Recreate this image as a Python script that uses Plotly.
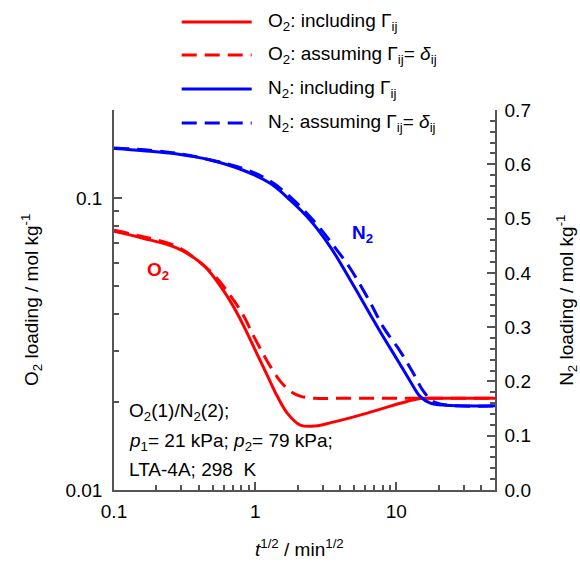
import math
import plotly.graph_objects as go

# Square root of time, min^1/2, and loadings for each curve
t_o2_incl = [0.1, 0.1606, 0.2798, 0.43, 0.593, 0.745, 0.878, 1.016, 1.216, 1.432,
             1.687, 2.085, 2.665, 3.574, 6.226, 10.68, 14.80, 20.51, 50]
q_o2_incl = [0.0769, 0.07279, 0.06727, 0.05884, 0.04831, 0.0403, 0.03444, 0.02966, 0.02474, 0.02097,
             0.01834, 0.01669, 0.01656, 0.01708, 0.01834, 0.01981, 0.02056, 0.0206, 0.0206]

t_o2_delta = [0.1, 0.1606, 0.2798, 0.4797, 0.6648, 0.8221, 0.9678, 1.121, 1.277, 1.504,
              1.771, 2.085, 2.665, 4.0, 50]
q_o2_delta = [0.0775, 0.07367, 0.06808, 0.05612, 0.04645, 0.0397, 0.03391, 0.02966, 0.02655, 0.0236,
              0.02182, 0.02097, 0.0206, 0.0206, 0.0206]

t_n2_incl = [0.1, 0.1606, 0.2798, 0.4797, 0.8221, 1.277, 1.771, 2.455, 3.404, 4.718,
             5.556, 6.541, 7.956, 10.16, 12.57, 14.80, 17.42, 22.26, 50]
q_n2_incl = [0.629, 0.625, 0.619, 0.608, 0.589, 0.565, 0.534, 0.497, 0.448, 0.387,
             0.355, 0.323, 0.285, 0.240, 0.200, 0.172, 0.160, 0.156, 0.155]

t_n2_delta = [0.1, 0.2798, 0.8221, 1.277, 1.771, 2.578, 3.574, 4.718, 6.541, 8.087,
              10.68, 13.20, 15.54, 18.30, 24.15, 50]
q_n2_delta = [0.630, 0.620, 0.592, 0.569, 0.540, 0.497, 0.451, 0.408, 0.345, 0.300,
              0.255, 0.215, 0.182, 0.163, 0.156, 0.155]

legend_labels = [
    "O<sub>2</sub>: including Γ<sub>ij</sub>",
    "O<sub>2</sub>: assuming Γ<sub>ij</sub>= <i>δ</i><sub>ij</sub>",
    "N<sub>2</sub>: including Γ<sub>ij</sub>",
    "N<sub>2</sub>: assuming Γ<sub>ij</sub>= <i>δ</i><sub>ij</sub>",
]

x_ticks = [0.1, 1, 10]
x_minor = [0.2, 0.3, 0.4, 0.5, 0.6, 0.7, 0.8, 0.9, 2, 3, 4, 5, 6, 7, 8, 9, 20, 30, 40]
y_ticks = [0.01, 0.1]
y_minor = [0.02, 0.03, 0.04, 0.05, 0.06, 0.07, 0.08, 0.09, 0.2]
y2_ticks = [0.0, 0.1, 0.2, 0.3, 0.4, 0.5, 0.6, 0.7]

RED = "#ff0000"
BLUE = "#0000ff"
AXIS = "#555555"
FONT = "Arial, Liberation Sans, sans-serif"
FS = 19
DASH = "15px,8px"

fig = go.Figure()
series = [
    (t_o2_incl, q_o2_incl, RED, "solid", "y"),
    (t_o2_delta, q_o2_delta, RED, DASH, "y"),
    (t_n2_incl, q_n2_incl, BLUE, "solid", "y2"),
    (t_n2_delta, q_n2_delta, BLUE, DASH, "y2"),
]
for (t, q, col, dash, ax), name in zip(series, legend_labels):
    fig.add_trace(go.Scatter(
        x=t, y=q, yaxis=ax, mode="lines", name=name, showlegend=False,
        line=dict(color=col, width=3, dash=dash, shape="spline", smoothing=1.0),
    ))

# Legend drawn as line samples plus labels above the plot area
row_y = [1.2316, 1.1447, 1.0553, 0.9658]
styles = [(RED, "solid"), (RED, DASH), (BLUE, "solid"), (BLUE, DASH)]
shapes = []
annotations = []
for yy, (col, dash), lab in zip(row_y, styles, legend_labels):
    shapes.append(dict(type="line", xref="paper", yref="paper", x0=0.1777, x1=0.3614,
                       y0=yy, y1=yy, line=dict(color=col, width=3, dash=dash)))
    annotations.append(dict(xref="paper", yref="paper", x=0.398, y=yy, xanchor="left",
                            yanchor="middle", text=lab, showarrow=False,
                            font=dict(size=FS, color="black", family=FONT)))

# Axis titles
annotations += [
    dict(xref="paper", yref="paper", x=-0.2178, y=0.5, xanchor="center", yanchor="middle",
         textangle=-90, showarrow=False,
         text="O<sub>2</sub> loading / mol kg<sup>-1</sup>", font=dict(size=FS, family=FONT)),
    dict(xref="paper", yref="paper", x=1.186, y=0.5, xanchor="center", yanchor="middle",
         textangle=-90, showarrow=False,
         text="N<sub>2</sub> loading / mol kg<sup>-1</sup>", font=dict(size=FS, family=FONT)),
    dict(xref="paper", yref="paper", x=0.488, y=-0.152, xanchor="center", yanchor="middle",
         showarrow=False,
         text="<i>t</i><sup>1/2</sup> / min<sup>1/2</sup>", font=dict(size=FS, family=FONT)),
]

# Conditions note
note_lines = [
    "O<sub>2</sub>(1)/N<sub>2</sub>(2);",
    "<i>p</i><sub>1</sub>= 21 kPa; <i>p</i><sub>2</sub>= 79 kPa;",
    "LTA-4A; 298  K",
]
for yy, txt in zip([0.2053, 0.1263, 0.053], note_lines):
    annotations.append(dict(xref="paper", yref="paper", x=0.034, y=yy, xanchor="left",
                            yanchor="middle", text=txt, showarrow=False,
                            font=dict(size=FS, color="black", family=FONT)))

# Curve labels
annotations += [
    dict(xref="x", yref="y", x=math.log10(0.205), y=math.log10(0.0562), showarrow=False,
         xanchor="center", yanchor="middle",
         text="<b>O<sub>2</sub></b>", font=dict(size=FS, color=RED, family=FONT)),
    dict(xref="x", yref="y2", x=math.log10(5.74), y=0.471, showarrow=False,
         xanchor="center", yanchor="middle",
         text="<b>N<sub>2</sub></b>", font=dict(size=FS, color=BLUE, family=FONT)),
]

common = dict(showline=True, linecolor=AXIS, linewidth=1.5, ticks="inside", ticklen=8,
              tickwidth=1.5, tickcolor=AXIS, showgrid=False, zeroline=False,
              tickfont=dict(size=FS, color="black", family=FONT))
minor_style = dict(ticks="inside", ticklen=5, tickwidth=1.5, tickcolor=AXIS, showgrid=False)

fig.update_layout(
    width=580, height=569,
    margin=dict(l=114, r=85, t=110, b=79),
    paper_bgcolor="white", plot_bgcolor="white",
    font=dict(family=FONT, size=FS, color="black"),
    showlegend=False,
    xaxis=dict(type="log", range=[-1, math.log10(50)], tickvals=x_ticks,
               ticktext=[str(v) for v in x_ticks], minor=dict(tickvals=x_minor, **minor_style),
               mirror=False, ticklabelstandoff=3, **common),
    yaxis=dict(type="log", range=[-2, math.log10(0.2)], tickvals=y_ticks,
               ticktext=["0.01", "0.1"], minor=dict(tickvals=y_minor, **minor_style),
               ticklabelstandoff=6, **common),
    yaxis2=dict(overlaying="y", side="right", range=[0, 0.7], tickvals=y2_ticks,
                ticktext=[f"{v:.1f}" for v in y2_ticks], minor=dict(dtick=0.02, **minor_style),
                ticklabelstandoff=4, **common),
    shapes=shapes,
    annotations=annotations,
)

fig.write_html("out.html")
